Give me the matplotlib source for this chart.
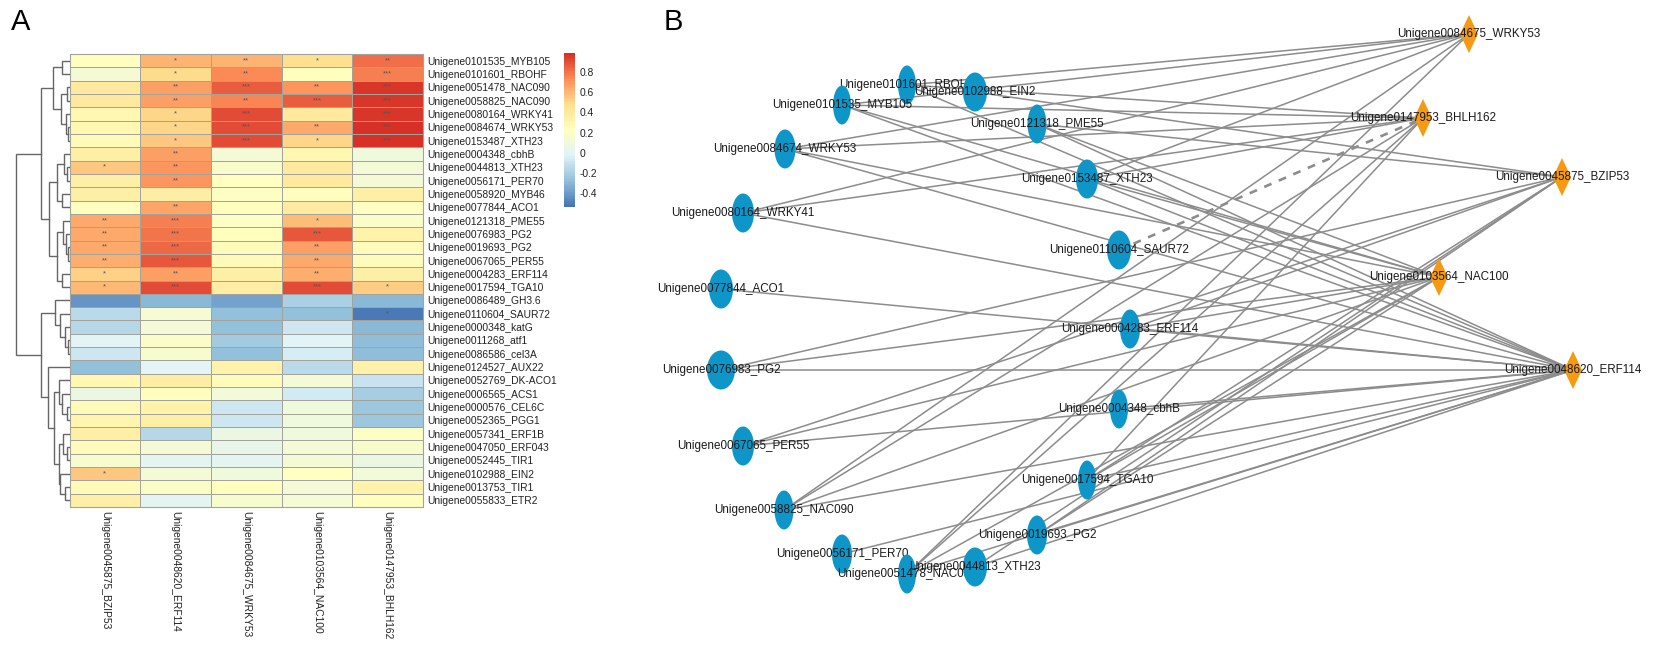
import matplotlib
matplotlib.use('Agg')
import matplotlib.pyplot as plt
from matplotlib.colors import LinearSegmentedColormap
from matplotlib.patches import Ellipse, Polygon
import numpy as np

plt.rcParams['font.family'] = ['Liberation Sans', 'DejaVu Sans']

W, H = 1654, 648

genes = ['Unigene0101535_MYB105', 'Unigene0101601_RBOHF', 'Unigene0051478_NAC090', 'Unigene0058825_NAC090',
         'Unigene0080164_WRKY41', 'Unigene0084674_WRKY53', 'Unigene0153487_XTH23', 'Unigene0004348_cbhB',
         'Unigene0044813_XTH23', 'Unigene0056171_PER70', 'Unigene0058920_MYB46', 'Unigene0077844_ACO1',
         'Unigene0121318_PME55', 'Unigene0076983_PG2', 'Unigene0019693_PG2', 'Unigene0067065_PER55',
         'Unigene0004283_ERF114', 'Unigene0017594_TGA10', 'Unigene0086489_GH3.6', 'Unigene0110604_SAUR72',
         'Unigene0000348_katG', 'Unigene0011268_atf1', 'Unigene0086586_cel3A', 'Unigene0124527_AUX22',
         'Unigene0052769_DK-ACO1', 'Unigene0006565_ACS1', 'Unigene0000576_CEL6C', 'Unigene0052365_PGG1',
         'Unigene0057341_ERF1B', 'Unigene0047050_ERF043', 'Unigene0052445_TIR1', 'Unigene0102988_EIN2',
         'Unigene0013753_TIR1', 'Unigene0055833_ETR2']
tfs = ['Unigene0045875_BZIP53', 'Unigene0048620_ERF114', 'Unigene0084675_WRKY53',
       'Unigene0103564_NAC100', 'Unigene0147953_BHLH162']

corr = [[.24, .62, .62, .48, .81], [.12, .49, .73, .23, .77], [.40, .68, .86, .70, .97],
        [.40, .68, .75, .86, .96], [.30, .51, .90, .40, .97], [.30, .51, .90, .64, .98],
        [.27, .55, .90, .51, .98], [.36, .68, .13, .30, .10], [.55, .70, .17, .40, .12],
        [.36, .70, .22, .40, .13], [.36, .37, .20, .23, .35], [.24, .66, .24, .39, .22],
        [.65, .77, .20, .58, .18], [.65, .80, .23, .88, .32], [.64, .83, .25, .68, .25],
        [.63, .87, .26, .65, .25], [.52, .68, .35, .63, .36], [.60, .90, .37, .90, .54],
        [-.42, -.30, -.38, -.20, -.30], [-.15, .14, -.27, -.27, -.52], [-.17, .13, -.27, -.09, -.30],
        [-.01, .18, -.22, -.01, -.28], [-.09, .16, -.27, -.06, -.28], [-.27, -.01, .32, -.15, .34],
        [.29, .37, .25, .13, -.11], [.07, .24, .11, -.08, -.21], [.27, .32, -.09, .09, -.24],
        [.31, .35, -.09, .10, -.24], [.36, -.16, .06, .09, .20], [.25, .13, .04, .12, .17],
        [.16, .00, .00, .12, .07], [.55, .12, .09, .22, .11], [.27, .18, .24, .12, .32],
        [.35, .00, .16, .14, .23]]

stars = [['', '*', '**', '*', '**'], ['', '*', '**', '', '***'], ['', '**', '***', '**', '***'],
         ['', '**', '**', '***', '***'], ['', '*', '***', '', '***'], ['', '*', '***', '**', '***'],
         ['', '*', '***', '*', '***'], ['', '**', '', '', ''], ['*', '**', '', '', ''],
         ['', '**', '', '', ''], ['', '', '', '', ''], ['', '**', '', '', ''],
         ['**', '***', '', '*', ''], ['**', '***', '', '***', ''], ['**', '***', '', '**', ''],
         ['**', '***', '', '**', ''], ['*', '**', '', '**', ''], ['*', '***', '', '***', '*'],
         ['', '', '', '', ''], ['', '', '', '', '*'], ['', '', '', '', ''], ['', '', '', '', ''],
         ['', '', '', '', ''], ['', '', '', '', ''], ['', '', '', '', ''], ['', '', '', '', ''],
         ['', '', '', '', ''], ['', '', '', '', ''], ['', '', '', '', ''], ['', '', '', '', ''],
         ['', '', '', '', ''], ['*', '', '', '', ''], ['', '', '', '', ''], ['', '', '', '', '']]

# row tree: (merge height, left, right), leaves are row numbers
tree_a = (17, (8, 0, 1), (9, (3, 2, 3), (4, 4, (1.5, 5, 6))))
tree_b = (21, (12.5, (6, 7, (3, 8, 9)), (8, 10, 11)), (13, (7, 12, (4, 13, (2, 14, 15))), (8, 16, 17)))
tree_c = (15, 18, (10, 19, (5, 20, (2, 21, 22))))
tree_e = (11, 24, (8, 25, (3, 26, 27)))
tree_f = (11, (7, 28, (3, 29, 30)), (10, 31, (5, 32, 33)))
tree_d = (22, 23, (16, tree_e, tree_f))
row_tree = (54, (29, tree_a, tree_b), (29, tree_c, tree_d))

# network layout, drawing order matters for the overlaps
node_names = ['Unigene0101601_RBOHF', 'Unigene0102988_EIN2', 'Unigene0101535_MYB105', 'Unigene0121318_PME55',
              'Unigene0084674_WRKY53', 'Unigene0153487_XTH23', 'Unigene0080164_WRKY41', 'Unigene0110604_SAUR72',
              'Unigene0077844_ACO1', 'Unigene0004283_ERF114', 'Unigene0076983_PG2', 'Unigene0004348_cbhB',
              'Unigene0067065_PER55', 'Unigene0017594_TGA10', 'Unigene0058825_NAC090', 'Unigene0019693_PG2',
              'Unigene0056171_PER70', 'Unigene0051478_NAC090', 'Unigene0044813_XTH23']
node_x = [907, 975, 842, 1037, 785, 1087, 743, 1119, 721, 1130, 721, 1119, 743, 1087, 784, 1037, 842, 907, 975]
node_y = [85, 92, 105, 124, 149, 179, 213, 250, 289, 329, 370, 409, 446, 480, 510, 535, 554, 574, 567]
node_rx = [9, 12, 9, 9.5, 10.5, 11, 11, 12, 12, 10, 14, 9, 11, 9, 9.5, 10, 10, 9, 12]
hub_x = [1562, 1573, 1469, 1439, 1423]
hub_y = [177, 370, 34, 277, 118]

cb_ticks = [-0.4, -0.2, 0, 0.2, 0.4, 0.6, 0.8]
cb_labels = ['-0.4', '-0.2', '0', '0.2', '0.4', '0.6', '0.8']
vmin, vmax = -0.54, 0.99
heat_colors = ['#4575B4', '#91BFDB', '#E0F3F8', '#FFFFBF', '#FEE090', '#FC8D59', '#D73027']


def px_axes(fig, x0, y0, x1, y1):
    return fig.add_axes([x0 / W, 1 - y1 / H, (x1 - x0) / W, (y1 - y0) / H])


fig = plt.figure(figsize=(W / 100, H / 100), dpi=100)

# heatmap
cmap = LinearSegmentedColormap.from_list('pheat', heat_colors, N=100)
ax = px_axes(fig, 69.5, 54, 423, 507)
mesh = ax.pcolormesh(np.array(corr), cmap=cmap, vmin=vmin, vmax=vmax,
                     edgecolors='#a3a39c', linewidth=0.7)
ax.set_xlim(0, len(tfs))
ax.set_ylim(len(genes), 0)
ax.set_xticks(np.arange(len(tfs)) + 0.5)
ax.set_xticklabels(tfs, rotation=270, fontsize=7.4, color='#222222')
ax.set_yticks(np.arange(len(genes)) + 0.5)
ax.set_yticklabels(genes, fontsize=7.4, color='#222222')
ax.yaxis.tick_right()
ax.tick_params(length=0, pad=3)
for s in ax.spines.values():
    s.set_color('#a3a39c')
    s.set_linewidth(0.8)
for i, row in enumerate(stars):
    for j, st in enumerate(row):
        if st:
            ax.text(j + 0.5, i + 0.5, st, ha='center', va='center', fontsize=5.5, color='#555555')

# colorbar
cax = px_axes(fig, 564, 53, 575, 207)
cb = fig.colorbar(mesh, cax=cax)
cb.set_ticks(cb_ticks)
cb.set_ticklabels(cb_labels)
cb.outline.set_visible(False)
cb.ax.tick_params(length=0, pad=3, labelsize=7.4, labelcolor='#222222')

# dendrogram
dax = px_axes(fig, 0, 54, 69.5, 507)
dax.set_xlim(69.5, 0)
dax.set_ylim(len(genes), 0)
dax.axis('off')


def draw_tree(node):
    if not isinstance(node, tuple):
        return node + 0.5, 0
    h, left, right = node
    y1, h1 = draw_tree(left)
    y2, h2 = draw_tree(right)
    dax.plot([h1, h, h, h2], [y1, y1, y2, y2], color='#666666', lw=1.0, solid_joinstyle='miter')
    return (y1 + y2) / 2, h


draw_tree(row_tree)

# network
nax = px_axes(fig, 600, 0, W, H)
nax.set_xlim(600, W)
nax.set_ylim(H, 0)
nax.axis('off')

for i, row in enumerate(stars):
    if genes[i] not in node_names:
        continue
    n = node_names.index(genes[i])
    for j, st in enumerate(row):
        if st:
            dashed = genes[i].endswith('SAUR72')
            nax.plot([node_x[n], hub_x[j]], [node_y[n], hub_y[j]], color='#8c8c8c',
                     lw=1.9 if dashed else 1.1, ls=(0, (3, 3)) if dashed else '-', zorder=1)

for n, name in enumerate(node_names):
    z = 2 + n
    nax.add_patch(Ellipse((node_x[n], node_y[n]), 2 * node_rx[n], 39, fc='#0e96c9', ec='none', zorder=z))
    nax.text(node_x[n], node_y[n], name, ha='center', va='center', fontsize=8.4, color='#1a1a1a', zorder=z)

for j, name in enumerate(tfs):
    z = 30 + j
    cx, cy = hub_x[j], hub_y[j]
    nax.add_patch(Polygon([(cx - 9, cy), (cx, cy - 19), (cx + 9, cy), (cx, cy + 19)],
                          closed=True, fc='#f59a12', ec='none', zorder=z))
    nax.text(cx, cy, name, ha='center', va='center', fontsize=8.4, color='#1a1a1a', zorder=z)

fig.text(11 / W, 1 - 29.5 / H, 'A', fontsize=21, color='black')
fig.text(664 / W, 1 - 29.5 / H, 'B', fontsize=21, color='black')

fig.savefig('out.png', dpi=100)
